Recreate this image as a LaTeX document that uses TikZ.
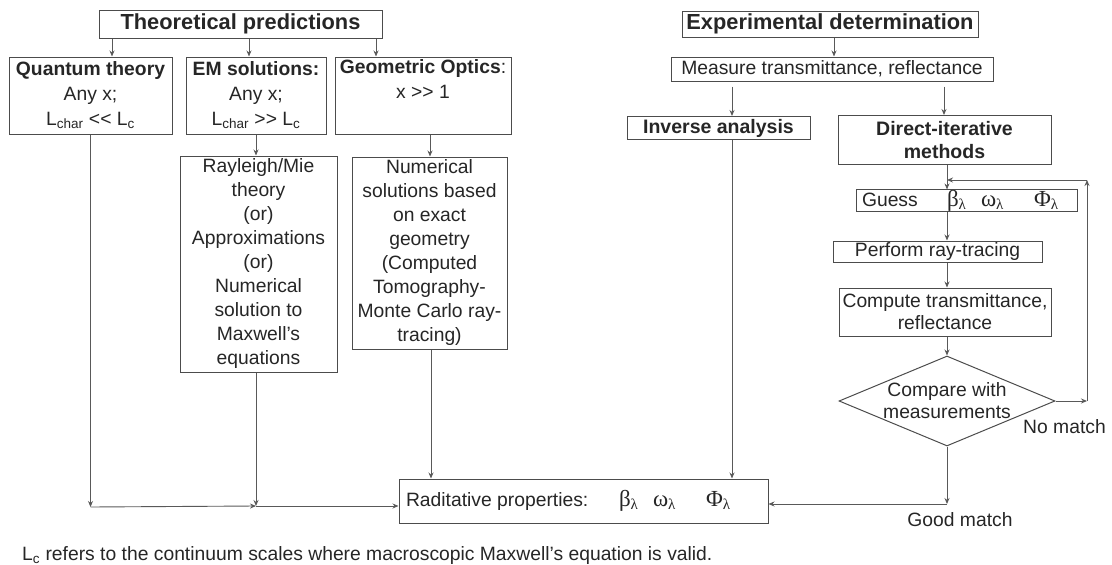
\documentclass[tikz,border=0pt]{standalone}
\usepackage{fontspec}
\setmainfont{Liberation Sans}
\newfontfamily\greekfont{Liberation Serif}
\usetikzlibrary{arrows.meta,shapes.geometric}

\newcommand{\bodyfont}{\fontsize{19.3}{23.5}\selectfont}
\newcommand{\headfont}{\fontsize{21.8}{26}\selectfont\bfseries}
\newcommand{\gsym}[1]{{\greekfont\fontsize{23}{23}\selectfont #1\raisebox{-3pt}{\fontsize{15}{15}\selectfont λ}}}
\newcommand{\props}{\makebox[34pt][l]{\gsym{β}}\makebox[53pt][l]{\gsym{ω}}\gsym{Φ}}
\newcommand{\muchless}{\textless\kern0pt\textless}
\newcommand{\muchmore}{\textgreater\kern0pt\textgreater}

\tikzset{
  box/.style={draw=black!70, line width=1pt, fill=white, inner sep=0pt, align=center, font=\bodyfont, text=black!85},
  arr/.style={draw=black!65, line width=0.9pt, -{Stealth[length=6pt,width=5pt]}},
  label/.style={font=\bodyfont, text=black!85, inner sep=0pt, anchor=base west},
}

\begin{document}
\begin{tikzpicture}[x=1pt,y=-1pt]
\useasboundingbox (0,0) rectangle (1112,565);

% theoretical side
\node[box, minimum width=283pt, minimum height=28pt, font=\headfont] (theo) at (240.5,24) {Theoretical predictions};
\node[box, minimum width=163pt, minimum height=77pt, font=\fontsize{19.3}{25}\selectfont] (quant) at (90.5,95.5) {\textbf{Quantum theory}\\Any x;\\L\textsubscript{char} \muchless{} L\textsubscript{c}};
\node[box, minimum width=140pt, minimum height=77pt, font=\fontsize{19.3}{25}\selectfont] (em) at (256,95.5) {\textbf{EM solutions:}\\Any x;\\L\textsubscript{char} \muchmore{} L\textsubscript{c}};
\node[box, minimum width=176pt, minimum height=77pt, font=\fontsize{19.3}{25}\selectfont] (geo) at (423,95.5) {\textbf{Geometric Optics}:\\x \muchmore{} 1\\\strut};
\node[box, minimum width=157pt, minimum height=216pt, font=\fontsize{19.3}{24}\selectfont] (ray) at (258.5,264) {Rayleigh/Mie\\theory\\(or)\\Approximations\\(or)\\Numerical\\solution to\\Maxwell’s\\equations};
\node[box, minimum width=155pt, minimum height=192pt, font=\fontsize{19.3}{24}\selectfont] (num) at (429.5,253) {Numerical\\solutions based\\on exact\\geometry\\(Computed\\Tomography-\\Monte Carlo ray-\\tracing)};
\node[box, minimum width=369pt, minimum height=44pt] (rad) at (583.5,501) {\makebox[355pt][l]{\makebox[213pt][l]{Raditative properties:}\props}};

% experimental side
\node[box, minimum width=296pt, minimum height=26pt, font=\headfont] (exp) at (830,24) {Experimental determination};
\node[box, minimum width=322pt, minimum height=24pt] (meas) at (832,69) {Measure transmittance, reflectance};
\node[box, minimum width=183pt, minimum height=23pt, font=\fontsize{19.5}{23}\selectfont\bfseries] (inv) at (718.5,128) {Inverse analysis};
\node[box, minimum width=213pt, minimum height=49pt, font=\fontsize{19.5}{23}\selectfont\bfseries] (dir) at (944.5,140) {Direct-iterative\\methods};
\node[box, minimum width=221pt, minimum height=21pt] (guess) at (966.5,200.5) {\makebox[209pt][l]{\makebox[85pt][l]{Guess}\props}};
\node[box, minimum width=209pt, minimum height=21pt] (perf) at (937.5,251.5) {Perform ray-tracing};
\node[box, minimum width=212pt, minimum height=48pt, font=\fontsize{19.3}{22}\selectfont] (comp) at (945,312) {Compute transmittance,\\reflectance};
\node[box, shape=diamond, aspect=2.4, inner xsep=-4pt, inner ysep=-8pt, minimum width=216pt, minimum height=90pt, font=\fontsize{19.3}{22}\selectfont] (check) at (947,401) {Compare with\\measurements};
\node[label] (nomatch) at (1023,433) {No match};
\node[label, anchor=base] (goodmatch) at (960,526) {Good match};

\node[label] (note) at (22,560) {L\textsubscript{c} refers to the continuum scales where macroscopic Maxwell’s equation is valid.};

\coordinate (qbend) at (90.5,507);
\coordinate (rbend) at (256,506);
\coordinate (gbend) at (947,504);
\coordinate (loopb) at (1087,401);
\coordinate (loopt) at (1087,180);
\coordinate (loopin) at (947,180);

\draw[arr] (theo.south -| 112,0) -- (quant.north -| 112,0);
\draw[arr] (theo.south -| 249,0) -- (em.north -| 249,0);
\draw[arr] (theo.south -| 376,0) -- (geo.north -| 376,0);
\draw[arr] (em.south) -- (ray.north -| em.south);
\draw[arr] (geo.south -| 430,0) -- (num.north -| 430,0);
\draw[arr] (quant.south) -- (qbend);
\draw[arr] (qbend) -- (rbend);
\draw[arr] (ray.south -| rbend) -- (rbend);
\draw[arr] (rbend) -- (rad.west |- rbend);
\draw[arr] (num.south -| 431,0) -- (rad.north -| 431,0);

\draw[arr] (exp.south -| 834,0) -- (meas.north -| 834,0);
\draw[arr, shorten <=5pt] (meas.south -| 732,0) -- (inv.north -| 732,0);
\draw[arr, shorten <=5pt] (meas.south -| 944,0) -- (dir.north -| 944,0);
\draw[arr] (inv.south -| 732,0) -- (rad.north -| 732,0);
\draw[arr] (dir.south -| check.north) -- (guess.north -| check.north);
\draw[arr] (guess.south -| check.north) -- (perf.north -| check.north);
\draw[arr] (perf.south -| check.north) -- (comp.north -| check.north);
\draw[arr] (comp.south -| check.north) -- (check.north);
\draw[arr] (check.east) -- (loopb);
\draw[arr] (loopb) -- (loopt);
\draw[arr] (loopt) -- (loopin);
\draw[arr] (check.south) -- (gbend);
\draw[arr] (gbend) -- (rad.east |- gbend);

\end{tikzpicture}
\end{document}
